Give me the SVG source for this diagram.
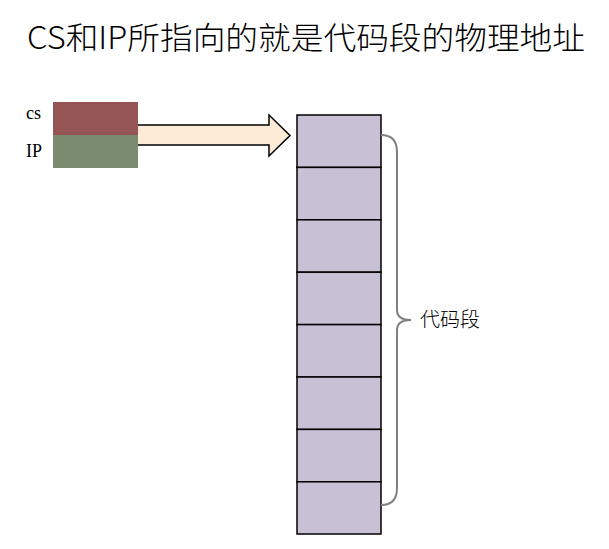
<svg xmlns="http://www.w3.org/2000/svg" width="609" height="549" viewBox="0 0 609 549">
<style>
.cell{fill:#c8c0d4;stroke:#000;stroke-width:1.5}
.reg{font-family:"Liberation Serif",serif;font-size:18px;fill:#000}
.cjk{font-family:"Noto Sans CJK SC","Noto Sans",sans-serif;font-weight:300;fill:#000}
</style>
<rect width="609" height="549" fill="#fff"/>
<text class="cjk" x="27" y="49" font-size="31" textLength="558" lengthAdjust="spacingAndGlyphs">CS和IP所指向的就是代码段的物理地址</text>
<g id="cs">
<rect x="53" y="102" width="85" height="33" fill="#965555"/>
<text class="reg" x="26" y="119">cs</text>
</g>
<g id="ip">
<rect x="53" y="135" width="85" height="33" fill="#7a8b6f"/>
<text class="reg" x="26" y="157">IP</text>
</g>
<g id="memory">
<rect class="cell" x="297" y="115" width="84" height="52.4"/>
<rect class="cell" x="297" y="167.4" width="84" height="52.4"/>
<rect class="cell" x="297" y="219.8" width="84" height="52.4"/>
<rect class="cell" x="297" y="272.2" width="84" height="52.4"/>
<rect class="cell" x="297" y="324.6" width="84" height="52.4"/>
<rect class="cell" x="297" y="377" width="84" height="52.4"/>
<rect class="cell" x="297" y="429.4" width="84" height="52.4"/>
<rect class="cell" x="297" y="481.8" width="84" height="52.2"/>
</g>
<g id="brace">
<path d="M381,135 Q397,135 397,152 L397,310 Q397,320 411,320 Q397,320 397,330 L397,488 Q397,505 381,505" fill="none" stroke="#808080" stroke-width="2"/>
<text class="cjk" x="420" y="327" font-size="20">代码段</text>
</g>
<g id="connectors">
<path d="M138,125 L269,125 L269,115 L290,135.5 L269,156 L269,145 L138,145" fill="#fdebd8" stroke="#000" stroke-width="1.5" stroke-linejoin="miter"/>
</g>
</svg>
